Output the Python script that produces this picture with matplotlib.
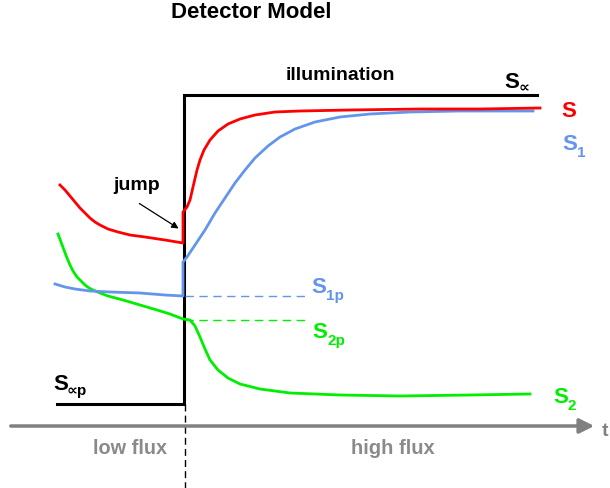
import matplotlib
matplotlib.use('Agg')
import matplotlib.pyplot as plt

plt.rcParams['font.family'] = ['Liberation Sans', 'DejaVu Sans']
plt.rcParams['font.weight'] = 'bold'

# schematic coordinates (x = time, y = level, y grows downwards)
illum_x = [57, 184, 184, 537]
illum_y = [404, 404, 95, 95]

s_x = [60, 65, 70, 75, 80, 85, 90, 95, 100, 108, 118, 130, 145, 165, 183, 183, 187, 190, 193,
       197, 200, 204, 210, 218, 228, 240, 255, 275, 300, 350, 420, 480, 540]
s_y = [185, 190, 196, 202, 208, 213, 218, 222, 225, 229, 232, 235, 237, 240, 243, 212, 207, 200,
       187, 170, 160, 150, 140, 131, 124, 119, 115, 112, 111, 110, 109, 109, 108]

s1_x = [55, 65, 75, 90, 110, 140, 165, 183, 183, 187, 195, 205, 215, 225, 235, 245, 255, 268,
        280, 295, 315, 340, 370, 410, 460, 533]
s1_y = [284, 287, 289, 291, 292, 293, 295, 296, 262, 257, 245, 230, 213, 198, 183, 170, 158, 146,
        137, 129, 122, 117, 114, 112, 111, 111]

s2_x = [58, 61, 64, 67, 70, 73, 77, 81, 85, 89, 93, 100, 108, 123, 140, 157, 170, 183, 190, 195,
        200, 205, 210, 218, 228, 240, 260, 290, 340, 400, 470, 530]
s2_y = [234, 242, 250, 258, 265, 271, 277, 281, 285, 288, 290, 293, 296, 300, 305, 310, 314, 319,
        320, 326, 337, 349, 360, 370, 378, 384, 389, 393, 395, 396, 395, 394]

s1p_level = 296
s2p_level = 320
switch_t = 185

RED = '#ff0000'
BLUE = '#6495ed'
GREEN = '#00ee00'
GRAY = '#8a8a8a'

fig = plt.figure(figsize=(6.1, 4.88), dpi=100)
ax = fig.add_axes([0, 0, 1, 1])
ax.set_xlim(0, 610)
ax.set_ylim(488, 0)
ax.axis('off')

# time axis
ax.annotate('', xy=(597, 426), xytext=(8, 426),
            arrowprops=dict(arrowstyle='-|>', color='#808080', lw=2.5, mutation_scale=22))
ax.text(602, 432, 't', fontsize=14, color='#808080', va='center', ha='left')

ax.plot([switch_t, switch_t], [404, 488], color='black', lw=1, ls=(0, (5, 3)))

ax.plot(illum_x, illum_y, color='black', lw=2.2, solid_joinstyle='miter')
ax.plot([switch_t, 305], [s1p_level, s1p_level], color=BLUE, lw=1, ls=(0, (6, 4)))
ax.plot([switch_t, 305], [s2p_level, s2p_level], color=GREEN, lw=1, ls=(0, (6, 4)))
ax.plot(s2_x, s2_y, color=GREEN, lw=2)
ax.plot(s1_x, s1_y, color=BLUE, lw=2)
ax.plot(s_x, s_y, color=RED, lw=2)


def label(x, y, sub, color, subdx=15, subdy=7):
    ax.text(x, y, 'S', fontsize=16, color=color, va='baseline', ha='left')
    if sub:
        ax.text(x + subdx, y + subdy, sub, fontsize=11, color=color, va='baseline', ha='left')


label(561, 117, '', RED)
label(562, 150, '1', BLUE)
label(553, 403, '2', GREEN)
label(311, 293, '1p', BLUE)
label(312, 338, '2p', GREEN)
label(504, 88, '\u221d', 'black', subdy=4)
label(53, 390, '\u221dp', 'black', subdx=14, subdy=5)

ax.text(251, 13, 'Detector Model', fontsize=16, ha='center', va='center')
ax.text(340, 76, 'illumination', fontsize=14, ha='center', va='center')
ax.text(137, 186, 'jump', fontsize=14, ha='center', va='center')
ax.annotate('', xy=(181, 230), xytext=(137, 202),
            arrowprops=dict(arrowstyle='-|>', color='black', lw=0.9, mutation_scale=10))
ax.text(130, 449, 'low flux', fontsize=14.3, color=GRAY, ha='center', va='center')
ax.text(393, 449, 'high flux', fontsize=14.5, color=GRAY, ha='center', va='center')

fig.savefig('out.png', dpi=100)
